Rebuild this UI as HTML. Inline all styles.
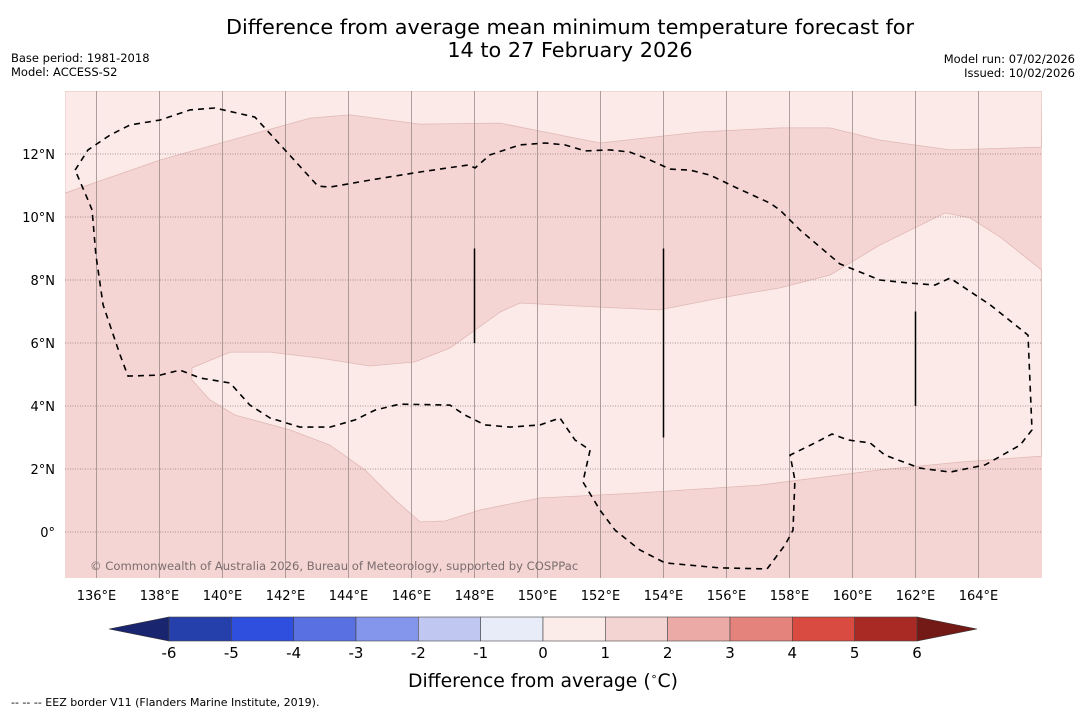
<!DOCTYPE html>
<html><head><meta charset="utf-8"><style>
body{margin:0;background:#fff;font-family:"Liberation Sans","DejaVu Sans",sans-serif;}
svg text{font-family:"DejaVu Sans","Liberation Sans",sans-serif;}
</style></head><body>
<svg id="chart" width="1085" height="713" viewBox="0 0 1085 713" xmlns="http://www.w3.org/2000/svg">
<rect width="1085" height="713" fill="#fff"/>
<text x="570" y="34" font-size="20.8" text-anchor="middle">Difference from average mean minimum temperature forecast for</text>
<text x="570" y="57" font-size="20.8" text-anchor="middle">14 to 27 February 2026</text>
<text x="11" y="62" font-size="11.5">Base period: 1981-2018</text>
<text x="11" y="76" font-size="11.5">Model: ACCESS-S2</text>
<text x="1075" y="63" font-size="11.5" text-anchor="end">Model run: 07/02/2026</text>
<text x="1075" y="77" font-size="11.5" text-anchor="end">Issued: 10/02/2026</text>
<g id="map"></g>
<g id="cbar"></g>
<text x="543" y="687" font-size="18.8" text-anchor="middle">Difference from average (<tspan font-size="11" dy="-7">∘</tspan><tspan dy="7">C)</tspan></text>
<text x="11" y="706" font-size="11">--  --  -- EEZ border V11 (Flanders Marine Institute, 2019).</text>
</svg>
<script>
const lonTicks=[136,138,140,142,144,146,148,150,152,154,156,158,160,162,164];
const latTicks=[0,2,4,6,8,10,12];
const topBand=[[135,10.76],[138.02,11.81],[142.78,13.14],[144.05,13.24],[146.27,12.95],[148.81,12.98],[151.98,12.35],[155.16,12.70],[157.70,12.83],[159.29,12.83],[160.87,12.44],[163.10,12.13],[166,12.22]];
const midRegion=[[139.03,5.21],[140.24,5.71],[141.51,5.71],[143.10,5.52],[144.68,5.27],[146.11,5.40],[147.22,5.84],[148.02,6.41],[148.81,6.98],[149.44,7.27],[151.98,7.14],[153.89,7.05],[155.79,7.43],[157.70,7.75],[159.29,8.16],[160.87,9.11],[162.94,10.13],[163.73,9.97],[164.68,9.37],[166,8.32],[166,2.41],[163.41,2.22],[160.87,1.97],[157.06,1.49],[153.25,1.24],[150.08,1.08],[148.17,0.70],[147.06,0.35],[146.27,0.32],[145.48,1.02],[144.52,1.97],[143.41,2.76],[142.14,3.24],[140.40,3.71],[139.60,4.19],[139.03,4.83]];
const eez=[[135.32,11.49],[135.73,12.13],[136.43,12.60],[137.06,12.92],[138.02,13.08],[138.97,13.40],[139.76,13.46],[141.03,13.17],[141.98,12.13],[143.03,10.98],[143.41,10.95],[144.68,11.17],[146.27,11.43],[147.79,11.65],[148.02,11.56],[148.49,11.97],[149.44,12.29],[150.24,12.35],[150.87,12.29],[151.51,12.10],[152.30,12.13],[152.94,12.06],[153.57,11.81],[154.21,11.52],[154.84,11.49],[155.48,11.33],[156.27,10.95],[157.38,10.44],[157.70,10.22],[158.33,9.59],[159.60,8.51],[160.87,8.00],[161.83,7.90],[162.62,7.84],[163.10,8.06],[164.37,7.21],[165.57,6.25],[165.70,3.24],[165.32,2.76],[164.21,2.13],[163.10,1.90],[162.14,2.03],[161.03,2.44],[160.56,2.83],[159.86,2.92],[159.35,3.11],[158.81,2.83],[158.02,2.44],[158.17,1.65],[158.11,0.06],[157.86,-0.41],[157.29,-1.17],[155.79,-1.14],[154.05,-0.98],[153.25,-0.57],[152.46,0.06],[151.98,0.70],[151.44,1.59],[151.67,2.60],[151.19,2.92],[150.71,3.62],[150.08,3.40],[149.13,3.33],[148.33,3.40],[147.70,3.71],[147.22,4.03],[145.63,4.06],[144.84,3.87],[144.21,3.56],[143.41,3.33],[142.46,3.33],[141.51,3.62],[140.87,4.03],[140.24,4.73],[139.29,4.89],[138.65,5.14],[138.02,4.98],[137.0,4.95],[136.75,5.62],[136.21,7.21],[135.98,8.79],[135.86,10.22],[135.73,10.54],[135.32,11.49]];
const segLon=[148,154,162];
const segLat0=[6,3,4];
const segLat1=[9,9,7];
const cbLevels=[-6,-5,-4,-3,-2,-1,0,1,2,3,4,5,6];
const cbColors=["#253fab","#2f4fdf","#5870e2","#8496eb","#c0c8f2","#e8ebf8","#fbebe9","#f4d4d2","#ebaaa5","#e4827c","#d94a40","#a92a24"];
const NS="http://www.w3.org/2000/svg";
const X0=65,X1=1042,Y0=91,Y1=578,LON0=135,LAT1=14,S=31.5;
const lx=v=>X0+(v-LON0)*S, ly=v=>Y0+(LAT1-v)*S;
function mk(p,tag,a){const e=document.createElementNS(NS,tag);for(const k in a)e.setAttribute(k,a[k]);p.appendChild(e);return e;}
const map=document.getElementById('map');
const cp=mk(map,'clipPath',{id:'clip'});mk(cp,'rect',{x:X0,y:Y0,width:X1-X0,height:Y1-Y0});
const g=mk(map,'g',{'clip-path':'url(#clip)'});
let r=mk(g,'rect',{x:X0,y:Y0,width:X1-X0,height:Y1-Y0,fill:'#f5d5d3'});

const pts=a=>a.map(p=>lx(p[0]).toFixed(1)+','+ly(p[1]).toFixed(1)).join(' ');
let tb=mk(g,'polygon',{points:pts(topBand)+' '+X1+','+Y0+' '+X0+','+Y0,fill:'#fbeae8',stroke:'#e0b8b5','stroke-width':0.8});

let mr=mk(g,'polygon',{points:pts(midRegion),fill:'#fbeae8',stroke:'#e0b8b5','stroke-width':0.8});

lonTicks.forEach(v=>{
  let l=mk(g,'line',{x1:lx(v),x2:lx(v),y1:Y0,y2:Y1,stroke:'#9a8a8a','stroke-width':0.8});
  
  let t=mk(map,'text',{x:lx(v),y:600,'font-size':13,'text-anchor':'middle'});t.textContent=v+'°E';
  
});
latTicks.forEach(v=>{
  let l=mk(g,'line',{x1:X0,x2:X1,y1:ly(v),y2:ly(v),stroke:'#8a7a7a','stroke-width':0.8,'stroke-dasharray':'1,1.5'});
  
  let t=mk(map,'text',{x:55,y:ly(v)+5,'font-size':13,'text-anchor':'end'});t.textContent=v===0?'0°':v+'°N';
  
});
let ez=mk(g,'polyline',{points:pts(eez),fill:'none',stroke:'#000','stroke-width':1.6,'stroke-dasharray':'6,5'});

segLon.forEach((v,i)=>{
  let l=mk(g,'line',{x1:lx(v),x2:lx(v),y1:ly(segLat1[i]),y2:ly(segLat0[i]),stroke:'#000','stroke-width':1.5});
  
});
let cr=mk(g,'text',{x:90,y:570,'font-size':11.6,fill:'#7a6e6e'});cr.textContent='© Commonwealth of Australia 2026, Bureau of Meteorology, supported by COSPPac';

const cb=document.getElementById('cbar');
const CB0=169,CB1=917,CY=617,CH=24,n=cbColors.length;
const cx=v=>CB0+(v-cbLevels[0])/(cbLevels[n]-cbLevels[0])*(CB1-CB0);
let lt=mk(cb,'polygon',{points:`109,${CY+CH/2} ${CB0},${CY} ${CB0},${CY+CH}`,fill:'#1a2570',stroke:'#333','stroke-width':0.6});

let rt=mk(cb,'polygon',{points:`977,${CY+CH/2} ${CB1},${CY} ${CB1},${CY+CH}`,fill:'#731a16',stroke:'#333','stroke-width':0.6});

cbColors.forEach((c,i)=>{
  let b=mk(cb,'rect',{x:cx(cbLevels[i]),y:CY,width:cx(cbLevels[i+1])-cx(cbLevels[i]),height:CH,fill:c,stroke:'#444','stroke-width':0.6});
  
});
cbLevels.forEach(v=>{
  let t=mk(cb,'text',{x:cx(v),y:658,'font-size':15,'text-anchor':'middle'});t.textContent=v;
  
});
</script>
</body></html>
